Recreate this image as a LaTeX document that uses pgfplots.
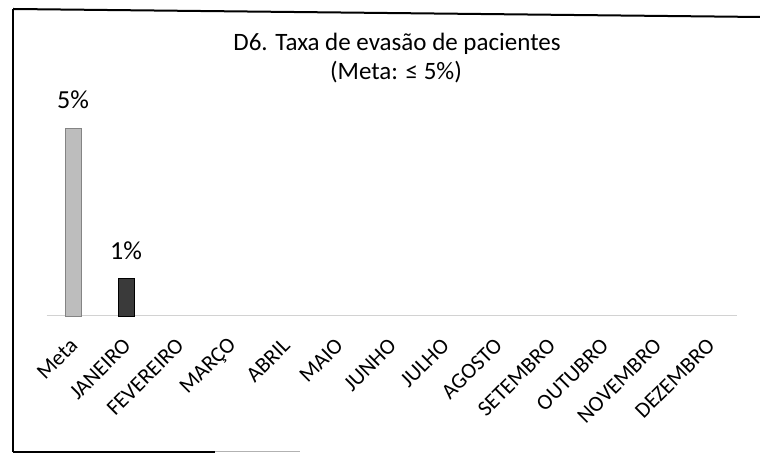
\documentclass[border=0pt]{standalone}
\usepackage{pgfplots}
\pgfplotsset{compat=1.18}
\usepackage{fontspec}
\setmainfont{Carlito}
\definecolor{barmeta}{HTML}{BDBDBD}
\definecolor{barjan}{HTML}{3A3A3A}
\begin{document}
\begin{tikzpicture}[x=1bp,y=1bp]
\path[use as bounding box] (0,0) rectangle (760,455);
% frame
\draw[line width=2bp, black] (13,446) -- (13,3);
\draw[line width=2bp, black] (13,446) -- (760,438);
\draw[line width=2bp, black] (13,3) -- (215,3);
\draw[line width=1bp, gray!60] (215,3) -- (300,3);
% title
\node[anchor=base, font=\fontsize{25bp}{30bp}\selectfont, inner sep=0pt] at (397,404) {D6. Taxa de evasão de pacientes};
\node[anchor=base, font=\fontsize{25bp}{30bp}\selectfont, inner sep=0pt] at (396,375) {(Meta: ≤ 5\%)};
\begin{axis}[
  at={(46.5bp,139bp)}, anchor=south west,
  scale only axis, width=690bp, height=225.6bp,
  xmin=-0.5, xmax=12.5, ymin=0, ymax=6,
  axis x line=bottom, axis y line=none,
  x axis line style={-, gray!35, line width=1bp},
  ytick=\empty,
  xtick={0,1,2,3,4,5,6,7,8,9,10,11,12},
  xticklabels={Meta,JANEIRO,FEVEREIRO,MARÇO,ABRIL,MAIO,JUNHO,JULHO,AGOSTO,SETEMBRO,OUTUBRO,NOVEMBRO,DEZEMBRO},
  major tick length=0pt,
  xticklabel style={xshift=1bp, yshift=-26bp, rotate=45, anchor=east, inner sep=0pt, font=\fontsize{22bp}{26bp}\selectfont},
  ybar, bar width=16bp,
  nodes near coords,
  point meta=explicit symbolic,
  every node near coord/.append style={anchor=base, yshift=19bp, inner sep=0pt, font=\fontsize{26bp}{30bp}\selectfont, black},
  clip=false,
]
\addplot[bar shift=0pt, fill=barmeta, draw=barmeta!70!black] coordinates {(0,5) [5\%]};
\addplot[bar shift=0pt, fill=barjan, draw=black] coordinates {(1,1) [1\%]};
\end{axis}
\end{tikzpicture}
\end{document}
